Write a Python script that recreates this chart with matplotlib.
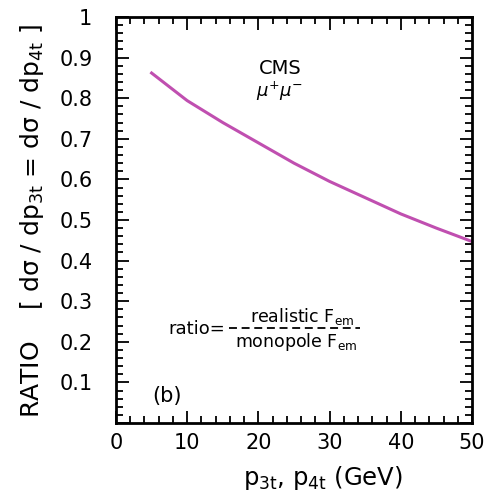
import matplotlib
matplotlib.use("Agg")
import matplotlib.pyplot as plt
from matplotlib.ticker import MultipleLocator, FuncFormatter

plt.rcParams['font.family'] = ['DejaVu Sans']
plt.rcParams['mathtext.fontset'] = 'dejavusans'

# ratio of realistic to monopole form factor vs transverse momentum
pt = [5, 10, 15, 20, 25, 30, 35, 40, 45, 50]
ratio = [0.862, 0.794, 0.740, 0.690, 0.640, 0.595, 0.555, 0.515, 0.480, 0.447]

fig = plt.figure(figsize=(4.89, 4.95), dpi=100)
ax = fig.add_axes([116 / 489, 1 - 423 / 495, 356 / 489, 406 / 495])

ax.plot(pt, ratio, color='#c04fb0', lw=2.2)

ax.set_xlim(0, 50)
ax.set_ylim(0, 1)
ax.xaxis.set_major_locator(MultipleLocator(10))
ax.xaxis.set_minor_locator(MultipleLocator(2))
ax.yaxis.set_major_locator(MultipleLocator(0.1))
ax.yaxis.set_minor_locator(MultipleLocator(0.02))


def yfmt(v, pos):
    if v < 0.05:
        return ''
    if v > 0.95:
        return '1'
    return '%.1f' % v


ax.yaxis.set_major_formatter(FuncFormatter(yfmt))
ax.tick_params(which='both', direction='in', top=True, right=True, width=1.3)
ax.tick_params(which='major', length=9, labelsize=15)
ax.tick_params(which='minor', length=5)
ax.tick_params(axis='y', which='major', pad=17)
ax.tick_params(axis='x', which='major', pad=7)
for s in ax.spines.values():
    s.set_linewidth(2.0)

fig.text(323 / 489, 1 - 478 / 495, 'p$_\\mathrm{3t}$, p$_\\mathrm{4t}$ (GeV)',
         fontsize=17.5, ha='center', va='center')
fig.text(32 / 489, 1 - 221 / 495,
         'RATIO    [ dσ / dp$_\\mathrm{3t}$ = dσ / dp$_\\mathrm{4t}$ ]',
         rotation=90, fontsize=18, ha='center', va='center')

ax.text(23.0, 0.872, 'CMS', fontsize=14, ha='center', va='center')
ax.text(23.0, 0.818, '$\\mu^{+}\\mu^{-}$', fontsize=13, ha='center', va='center')

ax.text(7.3, 0.232, 'ratio=', fontsize=13, ha='left', va='center')
ax.plot([15.9, 34.3], [0.234, 0.234], color='k', lw=1.3, ls=(0, (4.4, 2.6)))
ax.text(26.1, 0.263, 'realistic F$_\\mathrm{em}$', fontsize=12.5, ha='center', va='center')
ax.text(25.3, 0.200, 'monopole F$_\\mathrm{em}$', fontsize=12.5, ha='center', va='center')
ax.text(5.1, 0.067, '(b)', fontsize=15, ha='left', va='center')

fig.savefig('out.png', dpi=100)
